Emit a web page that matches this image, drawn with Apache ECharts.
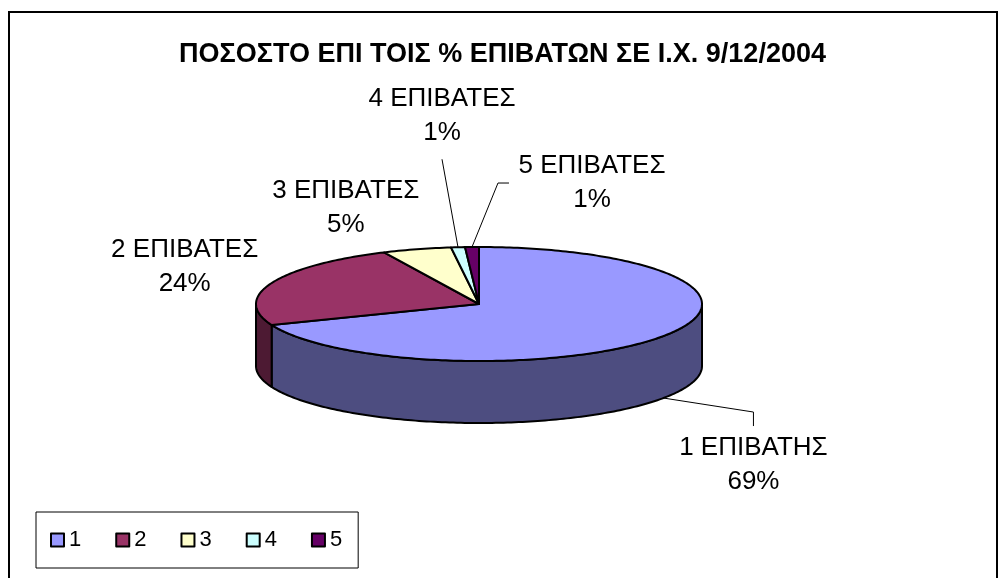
<!DOCTYPE html>
<html>
<head>
<meta charset="utf-8">
<script src="https://cdn.jsdelivr.net/npm/echarts@6/dist/echarts.min.js"></script>
<style>
html, body { margin: 0; padding: 0; background: #fff; }
#chart { width: 1005px; height: 578px; }
</style>
</head>
<body>
<div id="chart"></div>
<script>
var titleText = 'ΠΟΣΟΣΤΟ ΕΠΙ ΤΟΙΣ % ΕΠΙΒΑΤΩΝ ΣΕ Ι.Χ. 9/12/2004';
var categories = ['1', '2', '3', '4', '5'];
var sliceNames = ['1 ΕΠΙΒΑΤΗΣ', '2 ΕΠΙΒΑΤΕΣ', '3 ΕΠΙΒΑΤΕΣ', '4 ΕΠΙΒΑΤΕΣ', '5 ΕΠΙΒΑΤΕΣ'];
var percents = [69, 24, 5, 1, 1];

var topColors = ['#9999FF', '#993366', '#FFFFCC', '#CCFFFF', '#660066'];
var sideColors = ['#4D4D80', '#4D1A33', '#808066', '#668080', '#330033'];

// fake 3d pie geometry (px)
var cx = 479, cy = 304, rx = 223, ry = 57, depth = 62;
var font = '"Liberation Sans", Arial, sans-serif';

// label placement relative to slice anchor, leader line relative to label centre
var labelLayout = [
    { dx: 90, dy: 67, line: [[0, -53], [0, -39]] },
    { dx: -87, dy: -16, line: null },
    { dx: -71, dy: -41, line: null },
    { dx: -16, dy: -131, line: [[0, 43]] },
    { dx: 120, dy: -64, line: [[-94, 0], [-83, 0]] }
];

var total = 0;
var starts = percents.map(function (v) { var s = total; total += v; return s; });
var sliceData = percents.map(function (v, i) { return [v, starts[i]]; });

function arc(from, to, dy) {
    var n = Math.max(2, Math.ceil(Math.abs(to - from)));
    var pts = [];
    for (var k = 0; k <= n; k++) {
        var a = (from + (to - from) * k / n) * Math.PI / 180;
        pts.push([cx + rx * Math.cos(a), cy + dy + ry * Math.sin(a)]);
    }
    return pts;
}

function renderSlice(params, api) {
    var i = params.dataIndex;
    var v = api.value(0), s = api.value(1);
    var a0 = -90 + 360 * s / total;
    var a1 = a0 + 360 * v / total;
    var children = [];

    var vs = Math.max(a0, 0), ve = Math.min(a1, 180);
    if (ve > vs) {
        children.push({
            type: 'polygon', z2: 1,
            shape: { points: arc(vs, ve, 0).concat(arc(ve, vs, depth)) },
            style: { fill: sideColors[i], stroke: '#000', lineWidth: 2, lineJoin: 'round' }
        });
    }
    children.push({
        type: 'polygon', z2: 2,
        shape: { points: [[cx, cy]].concat(arc(a0, a1, 0)) },
        style: { fill: topColors[i], stroke: '#000', lineWidth: 2, lineJoin: 'round' }
    });

    var m = (a0 + a1) / 2 * Math.PI / 180;
    var ax = cx + rx * Math.cos(m);
    var ay = cy + ry * Math.sin(m) + (Math.sin(m) > 0 ? depth : 0);
    var L = labelLayout[i];
    var lx = ax + L.dx, ly = ay + L.dy;
    if (L.line) {
        var pts = [[ax, ay]].concat(L.line.map(function (p) { return [lx + p[0], ly + p[1]]; }));
        children.push({
            type: 'polyline', z2: 3,
            shape: { points: pts },
            style: { stroke: '#000', lineWidth: 1, fill: null }
        });
    }
    children.push({
        type: 'text', z2: 4,
        style: {
            x: lx, y: ly,
            text: sliceNames[i] + '\n' + v + '%',
            align: 'center', verticalAlign: 'middle',
            font: '26px ' + font, lineHeight: 34, fill: '#000'
        }
    });
    return { type: 'group', children: children };
}

var chart = echarts.init(document.getElementById('chart'));
chart.setOption({
    animation: false,
    color: topColors,
    title: {
        text: titleText,
        left: 'center', top: 36,
        padding: [5, 5, 5, 25],
        textStyle: { fontSize: 27, fontWeight: 'bold', fontFamily: font, color: '#000' }
    },
    legend: {
        left: 36, top: 512,
        padding: [17, 16, 17, 14],
        itemWidth: 13, itemHeight: 13, itemGap: 34,
        icon: 'rect',
        borderColor: '#000', borderWidth: 1,
        itemStyle: { borderColor: '#000', borderWidth: 2 },
        textStyle: { fontSize: 22, fontFamily: font, color: '#000' },
        data: categories
    },
    graphic: [{
        type: 'rect', silent: true,
        shape: { x: 9, y: 12, width: 988, height: 620 },
        style: { fill: null, stroke: '#000', lineWidth: 2 }
    }],
    series: [{
        type: 'custom',
        coordinateSystem: 'none',
        renderItem: renderSlice,
        data: sliceData,
        silent: true
    }, {
        // only feeds the legend
        type: 'pie',
        center: [-200, -200], radius: 1,
        label: { show: false }, labelLine: { show: false },
        silent: true,
        data: categories.map(function (c, i) { return { name: c, value: percents[i] }; })
    }]
});
</script>
</body>
</html>
